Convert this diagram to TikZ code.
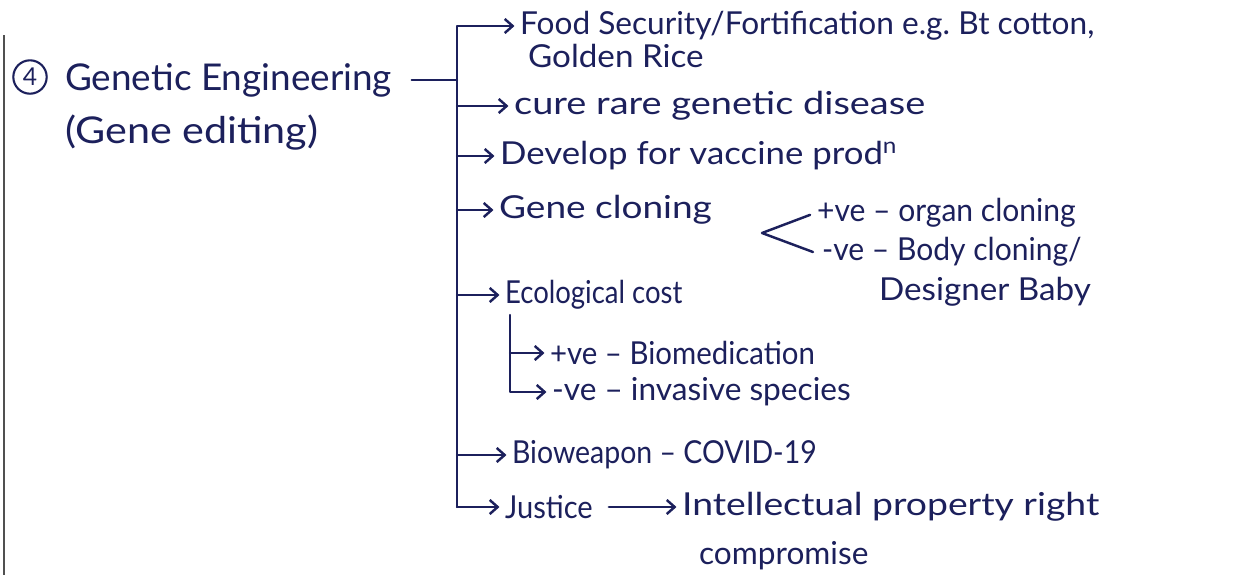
\documentclass[tikz,border=0pt]{standalone}
\usepackage{fontspec}
\usepackage{graphicx}
\setmainfont{Lato}
\usetikzlibrary{arrows.meta,calc}
\definecolor{ink}{RGB}{28,32,92}
\definecolor{edge}{RGB}{80,80,80}
\newcommand{\hs}[2]{\scalebox{#1}[1]{#2}}
\tikzset{
  txt/.style={anchor=west,inner sep=1pt,text=ink,font=\fontsize{18}{21}\selectfont},
  ttl/.style={anchor=west,inner sep=1pt,text=ink,font=\fontsize{21}{24}\selectfont},
  ln/.style={draw=ink,line width=1.4pt,line cap=round,line join=round},
  arr/.style={ln,-{Straight Barb[length=4.5pt,width=8pt]},shorten >=2pt}
}
\begin{document}
\begin{tikzpicture}[x=0.02cm,y=-0.02cm]
\useasboundingbox (0,0) rectangle (1243,575);
\fill[white] (0,0) rectangle (1243,575);
\draw[edge,line width=1.5pt] (4,35) -- (4,575);
% title
\node[circle,draw=ink,line width=1.2pt,text=ink,inner sep=0pt,minimum size=19pt,font=\fontsize{14}{14}\selectfont] (num) at (30,77) {4};
\node[ttl] (ge) at (63,80) {Genetic Engineering};
\node[ttl] (ged) at (63,133) {\hs{1.12}{(Gene editing)}};
% main branches
\node[txt] (food) at (518,26) {Food Security/Fortification e.g.\ Bt cotton,};
\node[txt] (golden) at (526,56) {\hs{1.05}{Golden Rice}};
\node[txt] (cure) at (512,106) {\hs{1.2}{cure rare genetic disease}};
\node[txt] (dev) at (498,156) {\hs{1.1}{Develop for vaccine prod\textsuperscript{n}}};
\node[txt] (gc) at (497,210) {\hs{1.17}{Gene cloning}};
\node[txt] (pos) at (815,213) {\hs{0.95}{+ve -- organ cloning}};
\node[txt] (neg) at (820,252) {\hs{0.95}{-ve -- Body cloning/}};
\node[txt] (des) at (877,292) {\hs{1.05}{Designer Baby}};
\node[txt] (eco) at (503,295) {\hs{0.87}{Ecological cost}};
\node[txt] (bio) at (548,353) {\hs{0.93}{+ve -- Biomedication}};
\node[txt] (inv) at (550,392) {-ve -- invasive species};
\node[txt] (bw) at (510,455) {\hs{0.9}{Bioweapon -- COVID-19}};
\node[txt] (jus) at (503,507) {\hs{0.92}{Justice}};
\node[txt] (ipr) at (680,507) {\hs{1.18}{Intellectual property right}};
\node[txt] (comp) at (697,556) {compromise};
% connectors
\coordinate (mt) at (457,26);
\coordinate (tip) at (762,233);
\coordinate (es) at (510,315);
\draw[ln,shorten <=10pt] (ge.east) -- (ge.east -| mt);
\draw[arr] (jus.west -| mt) |- (food.west);
\draw[arr] (jus.west -| mt) -- (jus.west);
\draw[arr] (cure.west -| mt) -- (cure.west);
\draw[arr] (dev.west -| mt) -- (dev.west);
\draw[arr] (gc.west -| mt) -- (gc.west);
\draw[arr] (eco.west -| mt) -- (eco.west);
\draw[arr] (bw.west -| mt) -- (bw.west);
\draw[ln,shorten <=3pt] (pos.west) -- (tip) -- ([xshift=-4pt]neg.west);
\draw[arr] (es) |- (inv.west);
\draw[arr] (bio.west -| es) -- (bio.west);
\draw[arr,shorten <=8pt] (jus.east) -- (ipr.west);
\end{tikzpicture}
\end{document}
